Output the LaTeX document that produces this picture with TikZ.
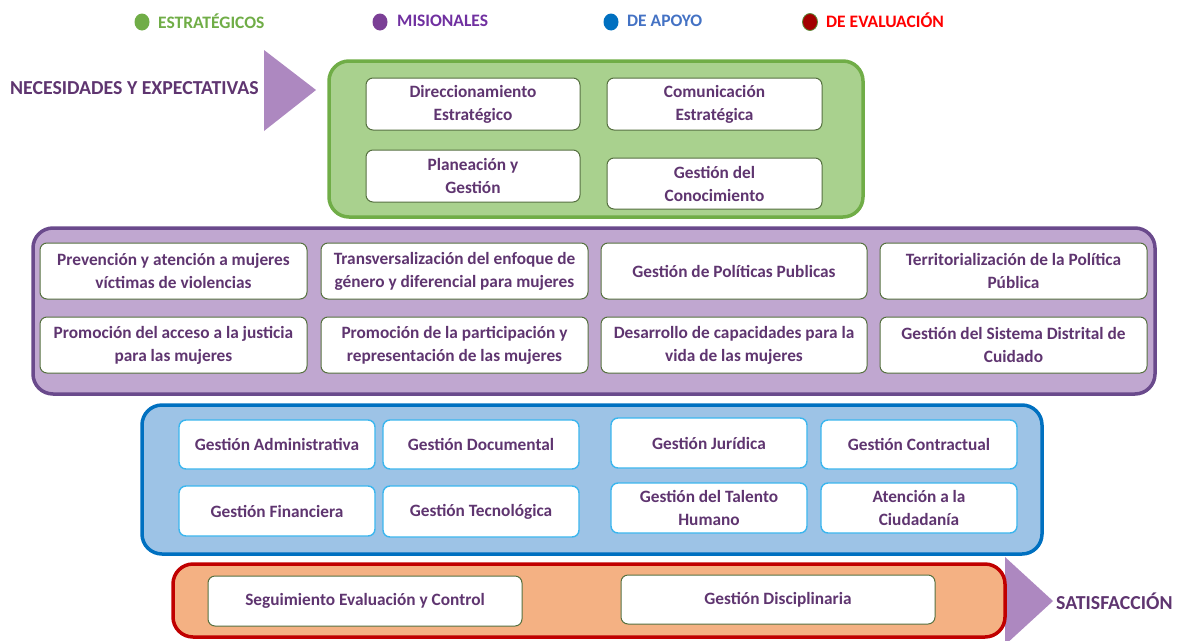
\documentclass[tikz,border=0pt]{standalone}
\usepackage{fontspec}
\setmainfont{Carlito}
\usetikzlibrary{positioning}

\definecolor{txtpurple}{HTML}{5F3570}
\definecolor{grnfill}{HTML}{A9D18E}
\definecolor{grnline}{HTML}{70AD47}
\definecolor{purfill}{HTML}{C0A7D0}
\definecolor{purline}{HTML}{6A4A8C}
\definecolor{bluefill}{HTML}{9DC3E6}
\definecolor{blueline}{HTML}{0070C0}
\definecolor{orgfill}{HTML}{F4B183}
\definecolor{orgline}{HTML}{C00000}
\definecolor{boxline}{HTML}{55703F}
\definecolor{cyanline}{HTML}{3BB6EE}
\definecolor{arrowfill}{HTML}{AD88C0}
\definecolor{misdot}{HTML}{7B3F96}
\definecolor{mistxt}{HTML}{7030A0}
\definecolor{apotxt}{HTML}{4472C4}

\tikzset{
  procbox/.style={draw=boxline, fill=white, rounded corners=7pt, line width=1pt,
    align=center, text=txtpurple, font=\bfseries\fontsize{17.3}{23}\selectfont, inner sep=0pt},
  supbox/.style={procbox, draw=cyanline, line width=1.4pt},
  layer/.style={rounded corners=20pt, line width=3.5pt},
  legtxt/.style={anchor=west, font=\bfseries\fontsize{17.5}{20}\selectfont, inner sep=0pt},
  bigtxt/.style={text=txtpurple, font=\bfseries\fontsize{19.8}{22}\selectfont, inner sep=0pt}
}

\begin{document}
\begin{tikzpicture}[x=1pt, y=-1pt]
\useasboundingbox (0,0) rectangle (1177,640);

% legend
\fill[grnline] (142,22) ellipse (7.5 and 8.5);
\node[legtxt, text=grnline] (lstra) at (158,21) {ESTRATÉGICOS};
\fill[misdot] (380,22) ellipse (7.5 and 8.5);
\node[legtxt, text=mistxt] (lmis) at (397,21) {MISIONALES};
\fill[blueline] (611,22) ellipse (7.5 and 8.5);
\node[legtxt, text=apotxt] (lapo) at (627,21) {DE APOYO};
\filldraw[fill=orgline!85!black, draw=grnline!80!black, line width=0.8pt] (810,22) ellipse (7.5 and 8.5);
\node[legtxt, text=red] (leva) at (826,20) {DE EVALUACIÓN};

% entry and exit
\fill[arrowfill] (264,50) -- (264,131) -- (316,90) -- cycle;
\node[bigtxt, anchor=west] (needs) at (10,88) {NECESIDADES Y EXPECTATIVAS};
\fill[arrowfill] (1005,557) -- (1005,645) -- (1053,601) -- cycle;
\node[bigtxt, anchor=west] (satis) at (1056,601) {SATISFACCIÓN};

% estrategicos
\draw[layer, draw=grnline, fill=grnfill] (329,61) rectangle (863,217);
\node[procbox, minimum width=214pt, minimum height=52pt] (dire) at (473,104) {Direccionamiento\\Estratégico};
\node[procbox, minimum width=215pt, minimum height=52pt] (comu) at (714.5,104) {Comunicación\\Estratégica};
\node[procbox, minimum width=214pt, minimum height=52pt] (plan) at (473,176) {Planeación y\\Gestión};
\node[procbox, minimum width=215pt, minimum height=51pt] (cono) at (714.5,183.5) {Gestión del\\Conocimiento};

% misionales
\draw[layer, draw=purline, fill=purfill] (33,228) rectangle (1155,394);
\node[procbox, minimum width=267pt, minimum height=56pt] (prev) at (173.5,271) {Prevención y atención a mujeres\\víctimas de violencias};
\node[procbox, minimum width=267pt, minimum height=56pt] (tran) at (454.5,271) {Transversalización del enfoque de\\género y diferencial para mujeres};
\node[procbox, minimum width=266pt, minimum height=56pt] (poli) at (734,271) {Gestión de Políticas Publicas};
\node[procbox, minimum width=267pt, minimum height=56pt] (terr) at (1013.5,271) {Territorialización de la Política\\Pública};
\node[procbox, minimum width=267pt, minimum height=56pt] (just) at (173.5,345) {Promoción del acceso a la justicia\\para las mujeres};
\node[procbox, minimum width=267pt, minimum height=56pt] (part) at (454.5,345) {Promoción de la participación y\\representación de las mujeres};
\node[procbox, minimum width=266pt, minimum height=56pt] (desa) at (734,345) {Desarrollo de capacidades para la\\vida de las mujeres};
\node[procbox, minimum width=267pt, minimum height=56pt] (cuid) at (1013.5,345) {Gestión del Sistema Distrital de\\Cuidado};

% de apoyo
\draw[layer, draw=blueline, fill=bluefill] (142,405) rectangle (1042,554);
\node[supbox, minimum width=196pt, minimum height=49pt] (admi) at (277,444.5) {Gestión Administrativa};
\node[supbox, minimum width=196pt, minimum height=49pt] (docu) at (481,444.5) {Gestión Documental};
\node[supbox, minimum width=196pt, minimum height=50pt] (juri) at (709,443) {Gestión Jurídica};
\node[supbox, minimum width=196pt, minimum height=49pt] (cont) at (919,444.5) {Gestión Contractual};
\node[supbox, minimum width=196pt, minimum height=50pt] (fina) at (277,511) {Gestión Financiera};
\node[supbox, minimum width=196pt, minimum height=51pt] (tecn) at (481,511.5) {Gestión Tecnológica};
\node[supbox, minimum width=196pt, minimum height=50pt] (tale) at (709,508) {Gestión del Talento\\Humano};
\node[supbox, minimum width=196pt, minimum height=50pt] (ciud) at (919,508) {Atención a la\\Ciudadanía};

% de evaluacion
\draw[layer, draw=orgline, fill=orgfill] (173,564) rectangle (1005,637);
\node[procbox, minimum width=314pt, minimum height=50pt] (segu) at (365,601) {Seguimiento Evaluación y Control};
\node[procbox, minimum width=314pt, minimum height=49pt] (disc) at (778,599.5) {Gestión Disciplinaria};

\end{tikzpicture}
\end{document}
